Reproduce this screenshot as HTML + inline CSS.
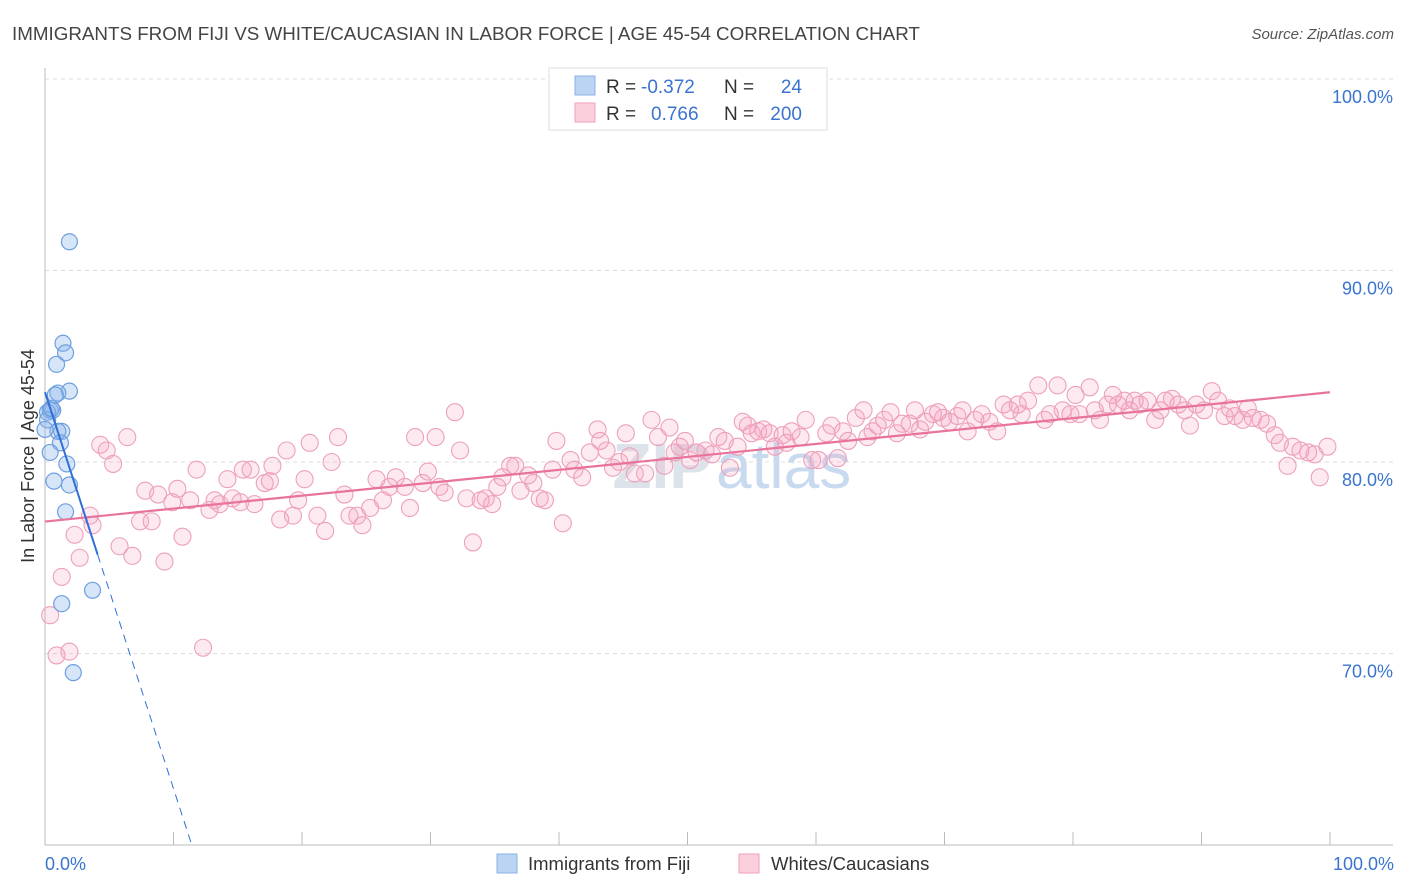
<!DOCTYPE html>
<html><head><meta charset="utf-8"><style>
body{margin:0;background:#fff;font-family:"Liberation Sans",sans-serif}
svg{display:block}
</style></head><body>
<svg id="c" width="1406" height="892" viewBox="0 0 1406 892">
<text x="12" y="40" font-size="18.8" fill="#444">IMMIGRANTS FROM FIJI VS WHITE/CAUCASIAN IN LABOR FORCE | AGE 45-54 CORRELATION CHART</text>
<text x="1394" y="39" font-size="15" fill="#555" font-style="italic" text-anchor="end">Source: ZipAtlas.com</text>
<text x="712" y="488" font-size="64" font-weight="bold" fill="#dde3ea" text-anchor="end">ZIP</text>
<text x="716" y="488" font-size="64" fill="#c8daf0">atlas</text>
<g id="grid"></g>
<g id="axes"></g>
<g id="marks"></g>
<text transform="translate(34,456) rotate(-90)" font-size="18" fill="#333" text-anchor="middle">In Labor Force | Age 45-54</text>
<text x="45" y="870" font-size="18" fill="#3a74d0">0.0%</text>
<text x="1394" y="870" font-size="18" fill="#3a74d0" text-anchor="end">100.0%</text>
<g>
<rect x="549" y="68" width="278" height="62" fill="#fff" stroke="#ddd"/>
<rect x="575" y="76" width="20" height="19" fill="#bcd4f4" stroke="#8ab0e8"/>
<rect x="575" y="103" width="20" height="19" fill="#fbd0dc" stroke="#f0a0b8"/>
<text x="606" y="93" font-size="19" fill="#333">R =</text>
<text x="641" y="93" font-size="19" fill="#3a74d0">-0.372</text>
<text x="724" y="93" font-size="19" fill="#333">N =</text>
<text x="802" y="93" font-size="19" fill="#3a74d0" text-anchor="end">24</text>
<text x="606" y="120" font-size="19" fill="#333">R =</text>
<text x="651" y="120" font-size="19" fill="#3a74d0">0.766</text>
<text x="724" y="120" font-size="19" fill="#333">N =</text>
<text x="802" y="120" font-size="19" fill="#3a74d0" text-anchor="end">200</text>
</g>
<g>
<rect x="497" y="854" width="20" height="19" fill="#bcd4f4" stroke="#8ab0e8"/>
<text x="528" y="870" font-size="18.5" fill="#333">Immigrants from Fiji</text>
<rect x="739" y="854" width="20" height="19" fill="#fbd0dc" stroke="#f0a0b8"/>
<text x="771" y="870" font-size="18.5" fill="#333">Whites/Caucasians</text>
</g>
</svg>
<script>
const yTicks=[70,80,90,100];
const yTickLabels=["70.0%","80.0%","90.0%","100.0%"];
const xTicks=[0,10,20,30,40,50,60,70,80,90,100];
const fijiX=[1.9,1.4,1.6,0.9,1.9,1.0,0.4,0.6,0.2,1.3,1.0,1.2,0.4,1.7,0.7,1.9,1.6,1.3,3.7,2.2,0.2,0.5,0.8,0];
const fijiY=[91.5,86.2,85.7,85.1,83.7,83.6,82.7,82.7,82.6,81.6,81.6,81.0,80.5,79.9,79.0,78.8,77.4,72.6,73.3,69.0,82.2,82.8,83.5,81.7];
const whiteX=[0.4,0.9,1.3,1.9,2.3,2.7,3.5,3.7,4.3,4.8,5.3,5.8,6.4,6.8,7.4,7.8,8.3,8.8,9.3,9.9,10.3,10.7,11.3,11.8,12.3,12.8,13.2,13.6,14.2,14.6,15.2,15.4,16.0,16.3,17.1,17.5,17.7,18.3,18.8,19.3,19.7,20.2,20.6,21.2,21.8,22.3,22.8,23.3,23.7,24.3,24.7,25.3,25.8,26.3,26.8,27.3,28.0,28.4,28.8,29.4,29.8,30.4,30.7,31.1,31.9,32.3,32.8,33.3,33.9,34.3,34.8,35.2,35.6,36.2,36.6,37.0,37.6,38.0,38.5,38.9,39.5,39.8,40.3,40.9,41.2,41.8,42.4,43.0,43.2,43.7,44.2,44.7,45.2,45.5,45.9,46.7,47.2,47.7,48.2,48.6,49.0,49.4,49.8,50.2,50.7,51.4,51.9,52.4,52.9,53.3,53.9,54.3,54.7,55.0,55.5,55.9,56.4,56.8,57.4,57.7,58.1,58.8,59.2,59.7,60.2,60.8,61.2,61.7,62.1,62.5,63.1,63.7,64.0,64.4,64.8,65.3,65.8,66.3,66.7,67.3,67.7,68.1,68.5,69.1,69.5,69.9,70.4,71.0,71.4,71.8,72.4,72.9,73.5,74.1,74.6,75.1,75.7,76.0,76.5,77.3,77.8,78.2,78.8,79.2,79.8,80.2,80.5,81.3,81.7,82.1,82.7,83.1,83.5,84.0,84.4,84.8,85.2,85.8,86.4,86.8,87.2,87.7,88.2,88.7,89.1,89.6,90.2,90.8,91.3,91.8,92.2,92.6,93.2,93.6,94.0,94.6,95.1,95.7,96.1,96.7,97.1,97.7,98.3,98.8,99.2,99.8];
const whiteY=[72.0,69.9,74.0,70.1,76.2,75.0,77.2,76.7,80.9,80.6,79.9,75.6,81.3,75.1,76.9,78.5,76.9,78.3,74.8,77.9,78.6,76.1,78.0,79.6,70.3,77.5,78.0,77.8,79.1,78.1,77.9,79.6,79.6,77.8,78.9,79.0,79.8,77.0,80.6,77.2,78.0,79.1,81.0,77.2,76.4,80.0,81.3,78.3,77.2,77.2,76.7,77.6,79.1,78.0,78.7,79.2,78.7,77.6,81.3,78.9,79.5,81.3,78.7,78.4,82.6,80.6,78.1,75.8,78.0,78.1,77.8,78.7,79.2,79.8,79.8,78.5,79.3,78.9,78.1,78.0,79.6,81.1,76.8,80.1,79.6,79.2,80.5,81.7,81.1,80.6,79.7,80.0,81.5,80.3,79.4,79.4,82.2,81.3,79.8,81.8,80.5,80.8,81.1,80.1,80.5,80.6,80.4,81.3,81.1,79.7,80.8,82.1,81.9,81.5,81.6,81.7,81.5,80.8,81.4,81.0,81.6,81.3,82.2,80.1,80.1,81.5,81.9,80.2,81.6,81.1,82.3,82.7,81.3,81.6,81.9,82.2,82.6,81.5,82.0,82.0,82.7,81.7,82.1,82.5,82.6,82.3,82.1,82.4,82.7,81.6,82.2,82.5,82.1,81.6,83.0,82.7,83.0,82.5,83.2,84.0,82.2,82.5,84.0,82.7,82.5,83.5,82.5,83.9,82.7,82.2,83.0,83.5,83.0,83.2,82.7,83.2,83.0,83.2,82.2,82.7,83.2,83.3,83.0,82.7,81.9,83.0,82.7,83.7,83.2,82.4,82.8,82.4,82.2,82.8,82.3,82.2,82.0,81.4,81.0,79.8,80.8,80.6,80.5,80.4,79.2,80.8];

const NS="http://www.w3.org/2000/svg";
const X0=45,X1=1330,Y0=845,Y1=79,YMIN=60,YMAX=100;
const sx=v=>X0+(v/100)*(X1-X0);
const sy=v=>Y0-(v-YMIN)/(YMAX-YMIN)*(Y0-Y1);
function mk(tag,attrs,parent){const e=document.createElementNS(NS,tag);for(const k in attrs)e.setAttribute(k,attrs[k]);parent.appendChild(e);return e;}
const grid=document.getElementById('grid'),axes=document.getElementById('axes'),marks=document.getElementById('marks');
yTicks.forEach((t,i)=>{
  const l=mk('line',{x1:X0,x2:1393,y1:sy(t),y2:sy(t),stroke:'#ddd','stroke-dasharray':'4,4'},grid);
  
  
  const tx=mk('text',{x:1393,y:sy(t)+24,'font-size':18,fill:'#3a74d0','text-anchor':'end'},grid);
  tx.textContent=yTickLabels[i];
  
  
});
const xa=mk('line',{x1:X0,x2:1393,y1:Y0,y2:Y0,stroke:'#bbb'},axes);


const ya=mk('line',{x1:X0,x2:X0,y1:68,y2:Y0,stroke:'#bbb'},axes);


xTicks.forEach(t=>{
  const l=mk('line',{x1:sx(t),x2:sx(t),y1:Y0-13,y2:Y0,stroke:'#bbb'},axes);
  
  
});
function reg(xs,ys){const n=xs.length;let mx=0,my=0;for(let i=0;i<n;i++){mx+=xs[i];my+=ys[i];}mx/=n;my/=n;let a=0,b=0;for(let i=0;i<n;i++){a+=(xs[i]-mx)*(ys[i]-my);b+=(xs[i]-mx)**2;}const s=a/b;return [s,my-s*mx];}
whiteX.forEach((x,i)=>{
  const c=mk('circle',{cx:sx(x),cy:sy(whiteY[i]),r:8.5,fill:'rgba(245,160,190,0.22)',stroke:'#eda0ba','stroke-width':1.1},marks);
  
  
});
fijiX.forEach((x,i)=>{
  const c=mk('circle',{cx:sx(x),cy:sy(fijiY[i]),r:8,fill:'rgba(140,180,235,0.35)',stroke:'#6d9fe0','stroke-width':1.2},marks);
  
  
});
const [ws,wi]=reg(whiteX,whiteY);
const wl=mk('line',{x1:sx(0),y1:sy(wi),x2:sx(100),y2:sy(wi+ws*100),stroke:'#e8739b','stroke-width':2.2},marks);


const [fs,fi]=reg(fijiX,fijiY);
const fmax=Math.max(...fijiX)+0.4;
const fl=mk('line',{x1:sx(0),y1:sy(fi),x2:sx(fmax),y2:sy(fi+fs*fmax),stroke:'#2f6fd6','stroke-width':2},marks);


const xEnd=(YMIN-fi)/fs;
const fd=mk('line',{x1:sx(fmax),y1:sy(fi+fs*fmax),x2:sx(xEnd),y2:sy(YMIN),stroke:'#2f6fd6','stroke-width':1,'stroke-dasharray':'8,6'},marks);


</script>
</body></html>
